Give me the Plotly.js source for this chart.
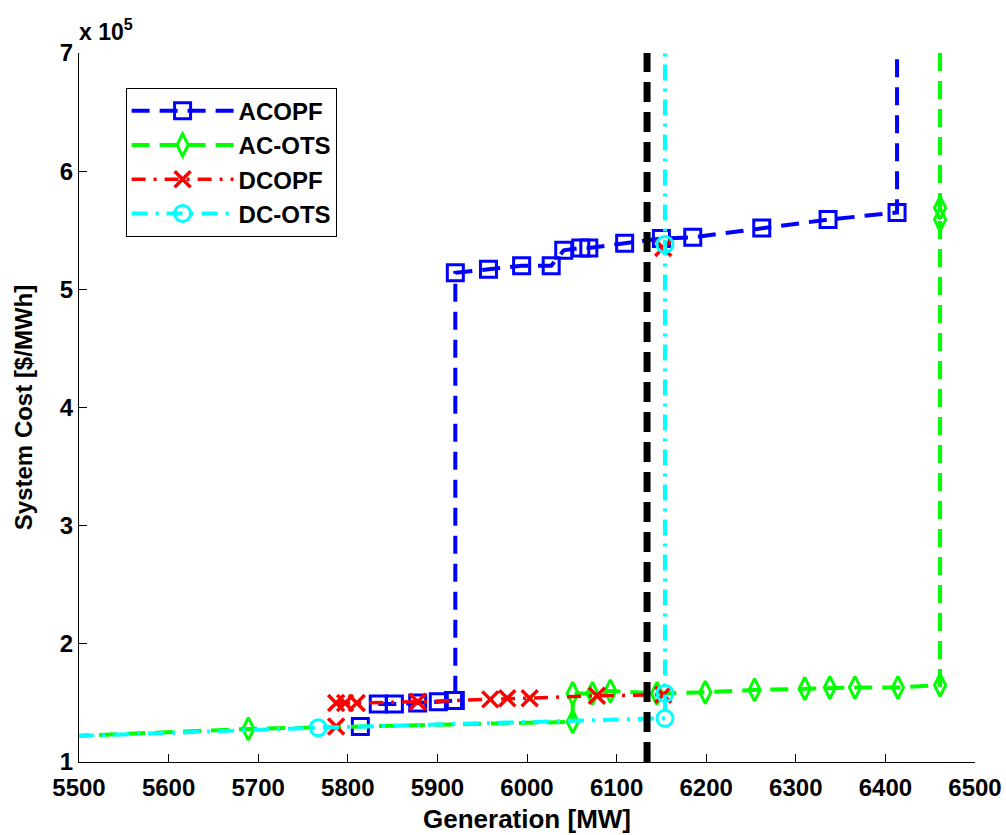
<!DOCTYPE html>
<html>
<head>
<meta charset="utf-8">
<script src="https://cdn.plot.ly/plotly-3.0.1.min.js"></script>
<style>html,body{margin:0;padding:0;background:#fff;}#chart{width:1006px;height:835px;}</style>
</head>
<body>
<div id="chart"></div>
<script>
// Values: generation in MW, system cost in units of 1e5 $/MWh
// (the first / last points run past the visible axes, as the lines leave the frame)
const acopfX = [5814, null, 5834, 5852, 5878, 5901, 5918, 5920, 5920, 5957, 5994, 6027, 6041, 6060, 6069, 6109, 6150, 6185, 6262, 6336, 6413, 6413];
const acopfY = [1.30, null, 1.49, 1.49, 1.50, 1.51, 1.52, 1.52, 5.14, 5.17, 5.20, 5.20, 5.33, 5.35, 5.35, 5.39, 5.43, 5.44, 5.52, 5.59, 5.65, 7.4];

const acotsX = [5460, 5689, 6051, 6051, 6073, 6093, 6145, 6199, 6254, 6310, 6338, 6366, 6414, 6461, 6461, 6461, 6461];
const acotsY = [1.21, 1.28, 1.34, 1.58, 1.58, 1.60, 1.58, 1.59, 1.61, 1.62, 1.63, 1.63, 1.63, 1.65, 5.59, 5.69, 7.4];

const dcopfX = [5787, null, 5787, 5797, 5810, 5878, 5959, 5978, 6003, 6078, 6152, null, 6152];
const dcopfY = [1.30, null, 1.50, 1.50, 1.50, 1.51, 1.53, 1.54, 1.54, 1.56, 1.57, null, 5.35];

const dcotsX = [5460, 5767, 6154, 6154, 6154, 6154];
const dcotsY = [1.21, 1.29, 1.37, 1.58, 5.38, 7.4];

const refX = [6134, 6134];
const refY = [1.0, 7.0];

const seriesNames = ['ACOPF', 'AC-OTS', 'DCOPF', 'DC-OTS'];
const xTicks = [5500, 5600, 5700, 5800, 5900, 6000, 6100, 6200, 6300, 6400, 6500];
const yTicks = [1, 2, 3, 4, 5, 6, 7];

const FONT = 'Liberation Sans, Arial, sans-serif';

const traces = [
  {x: acopfX, y: acopfY, name: seriesNames[0], mode: 'lines+markers', connectgaps: false,
   line: {color: '#0000ff', width: 4, dash: '18px,10px'},
   marker: {symbol: 'square-open', size: 16, color: '#0000ff', line: {width: 3, color: '#0000ff'}}},
  {x: acotsX, y: acotsY, name: seriesNames[1], mode: 'lines+markers',
   line: {color: '#00ff00', width: 4, dash: '18px,10px'},
   marker: {symbol: 'diamond-tall-open', size: 16, color: '#00ff00', line: {width: 3, color: '#00ff00'}}},
  {x: dcopfX, y: dcopfY, name: seriesNames[2], mode: 'lines+markers', connectgaps: false,
   line: {color: '#ff0000', width: 3.5, dash: '14px,8px,3px,8px'},
   marker: {symbol: 'x-thin-open', size: 16, color: '#ff0000', line: {width: 3.5, color: '#ff0000'}}},
  {x: dcotsX, y: dcotsY, name: seriesNames[3], mode: 'lines+markers',
   line: {color: '#00ffff', width: 4, dash: '16px,8px,3px,8px'},
   marker: {symbol: 'circle-open', size: 16, color: '#00ffff', line: {width: 3, color: '#00ffff'}}},
  {x: refX, y: refY, mode: 'lines', showlegend: false, hoverinfo: 'skip',
   line: {color: '#000000', width: 7, dash: '20px,10px'}}
];

const layout = {
  width: 1006, height: 835,
  margin: {l: 79, r: 31, t: 53, b: 73},
  paper_bgcolor: '#ffffff', plot_bgcolor: '#ffffff',
  font: {family: FONT, size: 24, color: '#000', weight: 'bold'},
  showlegend: true,
  legend: {x: 0.052, y: 0.951, xanchor: 'left', yanchor: 'top',
           bgcolor: '#ffffff', bordercolor: '#000', borderwidth: 1,
           font: {family: FONT, size: 24, color: '#000', weight: 'bold'},
           itemwidth: 102, tracegroupgap: 0},
  xaxis: {range: [5500, 6500], tickvals: xTicks, ticktext: xTicks.map(String),
          showgrid: false, zeroline: false, showline: true, linecolor: '#000', linewidth: 1,
          ticks: 'inside', ticklen: 8, tickcolor: '#000', mirror: false,
          ticklabelstandoff: 4,
          tickfont: {family: FONT, size: 24, color: '#000', weight: 'bold'},
          title: {text: 'Generation [MW]', standoff: 10, font: {family: FONT, size: 26, color: '#000', weight: 'bold'}}},
  yaxis: {range: [1, 7], tickvals: yTicks, ticktext: yTicks.map(String),
          showgrid: false, zeroline: false, showline: true, linecolor: '#000', linewidth: 1,
          ticks: 'inside', ticklen: 8, tickcolor: '#000', mirror: false,
          tickfont: {family: FONT, size: 24, color: '#000', weight: 'bold'},
          title: {text: 'System Cost [$/MWh]', standoff: 20, font: {family: FONT, size: 24, color: '#000', weight: 'bold'}}},
  annotations: [
    {xref: 'paper', yref: 'paper', x: 0, y: 1, xanchor: 'left', yanchor: 'bottom',
     xshift: -2, yshift: 6, showarrow: false,
     text: 'x 10<sup>5</sup>', font: {family: FONT, size: 23, color: '#000', weight: 'bold'}}
  ]
};

Plotly.newPlot('chart', traces, layout, {displayModeBar: false, staticPlot: true});
</script>
</body>
</html>
